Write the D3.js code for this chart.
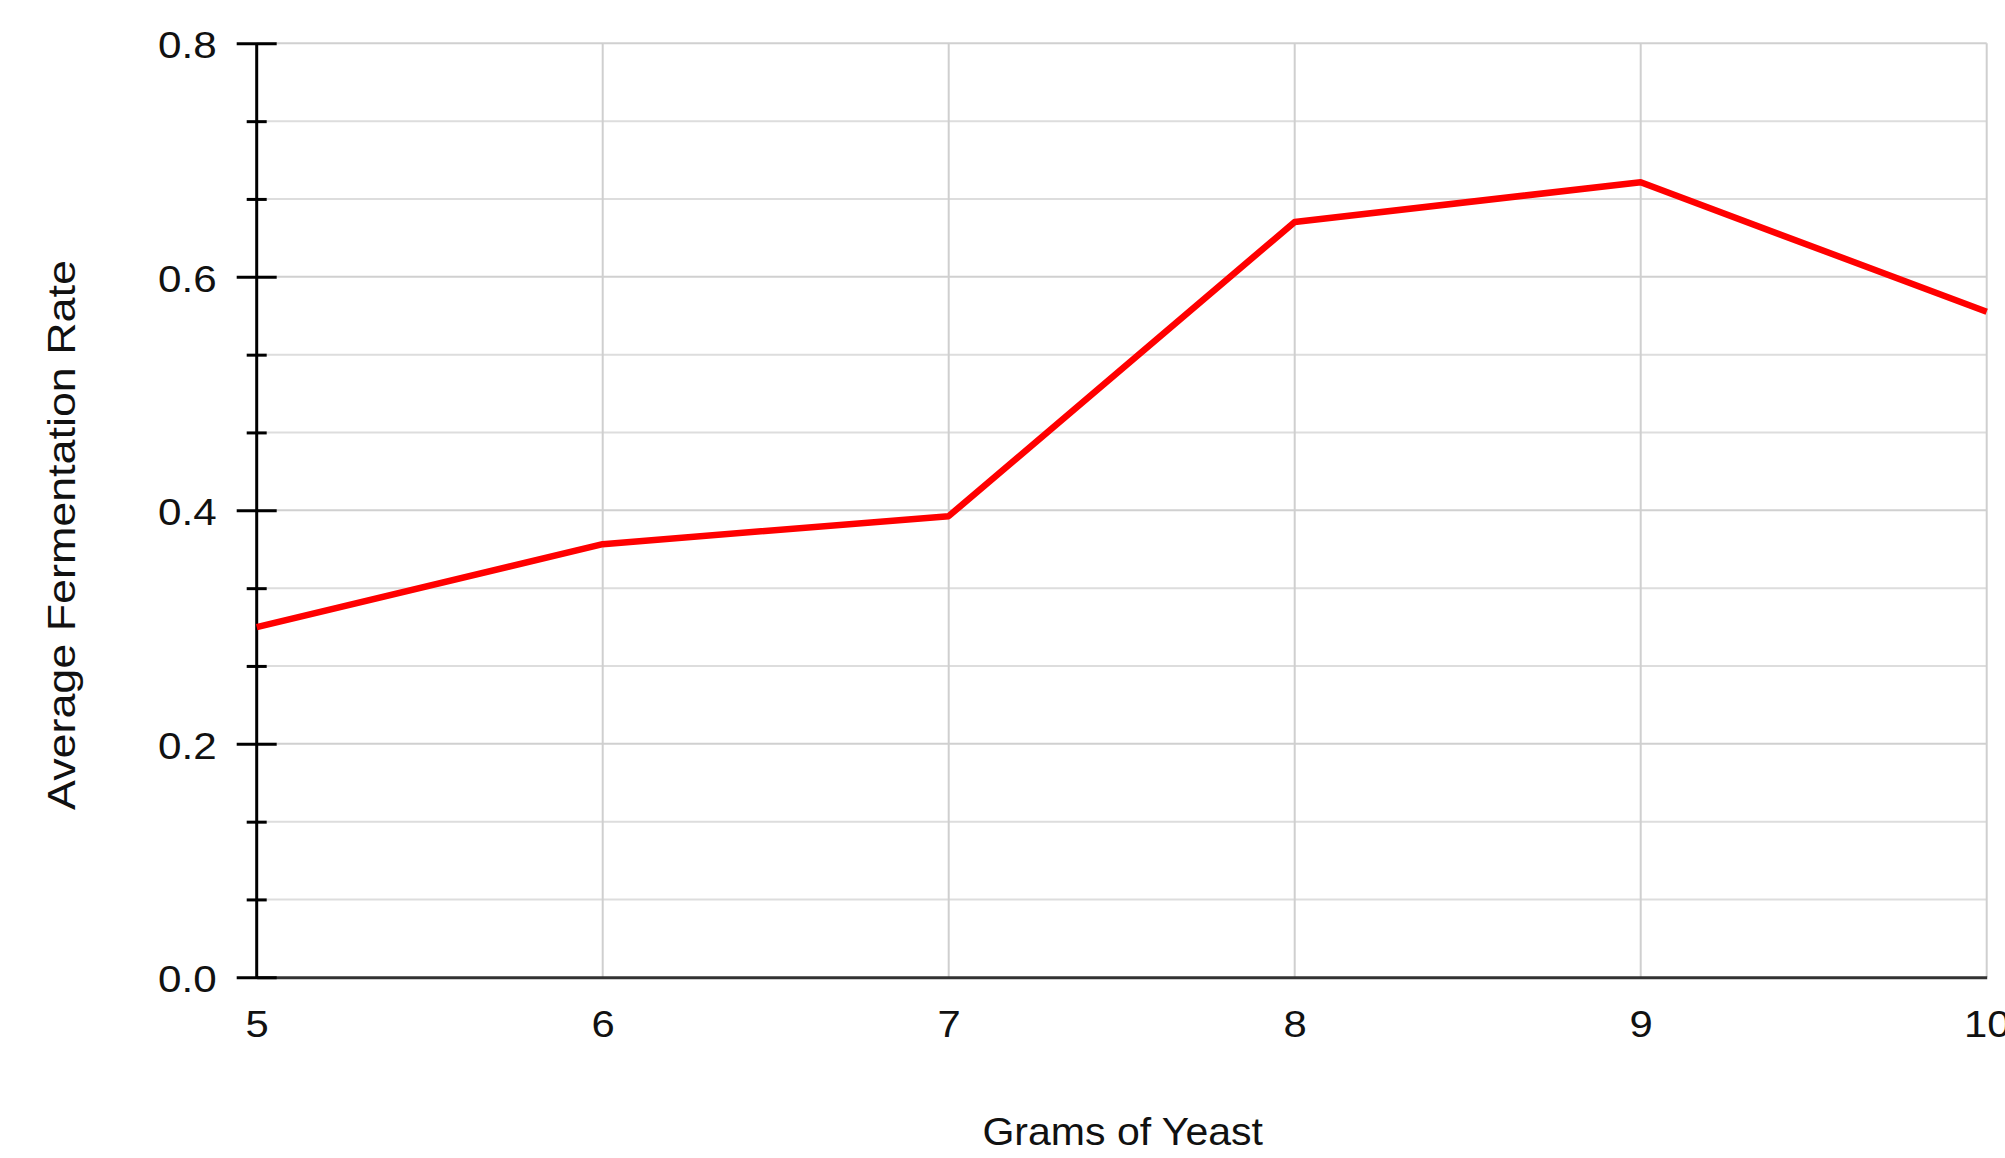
<!DOCTYPE html>
<html>
<head>
<meta charset="utf-8">
<script src="https://cdn.jsdelivr.net/npm/d3@7"></script>
<style>
  html, body { margin: 0; padding: 0; background: #ffffff; }
  svg { display: block; font-family: "Liberation Sans", Arial, sans-serif; }
</style>
</head>
<body>
<svg id="chart" width="2005" height="1158"></svg>
<script>
// ---- data ----
const grams = [5, 6, 7, 8, 9, 10];
const fermentationRate = [0.300, 0.371, 0.395, 0.647, 0.681, 0.570];
const xTicks = [5, 6, 7, 8, 9, 10];
const yMajorTicks = [0.0, 0.2, 0.4, 0.6, 0.8];
const yMinorTicks = [0.0667, 0.1333, 0.2667, 0.3333, 0.4667, 0.5333, 0.6667, 0.7333];
const xTitle = "Grams of Yeast";
const yTitle = "Average Fermentation Rate";

(function () {
// ---- layout ----
const plotLeft = 256.7, plotRight = 1986.7, plotTop = 43.3, plotBottom = 977.3;
const svg = d3.select("#chart");
svg.append("rect").attr("width", 2005).attr("height", 1158).attr("fill", "#fff");

const x = d3.scaleLinear().domain([5, 10]).range([plotLeft, plotRight]);
const y = d3.scaleLinear().domain([0, 0.8]).range([plotBottom, plotTop]);

// gridlines
const grid = svg.append("g");
grid.append("g").selectAll("line").data(yMinorTicks).join("line")
  .attr("x1", plotLeft).attr("x2", plotRight)
  .attr("y1", d => y(d)).attr("y2", d => y(d))
  .attr("stroke", "#dddddd").attr("stroke-width", 2);
grid.append("g").selectAll("line").data(yMajorTicks.filter(d => d > 0)).join("line")
  .attr("x1", plotLeft).attr("x2", plotRight)
  .attr("y1", d => y(d)).attr("y2", d => y(d))
  .attr("stroke", "#d0d0d0").attr("stroke-width", 2);
grid.append("g").selectAll("line").data(xTicks.filter(d => d > 5)).join("line")
  .attr("x1", d => x(d)).attr("x2", d => x(d))
  .attr("y1", plotTop).attr("y2", plotBottom)
  .attr("stroke", "#cfcfcf").attr("stroke-width", 2);

// x axis
const xAxis = svg.append("g")
  .attr("transform", `translate(0,${plotBottom})`)
  .call(d3.axisBottom(x).tickValues(xTicks).tickFormat(d3.format("d")).tickSize(0).tickPadding(0));
xAxis.select(".domain").attr("stroke", "#333333").attr("stroke-width", 3);
xAxis.selectAll(".tick text")
  .attr("y", 0).attr("dy", null)
  .attr("transform", "translate(0,60) scale(1.13,1)")
  .attr("font-size", 37).attr("fill", "#111")
  .attr("font-family", "Liberation Sans, Arial, sans-serif");

// y axis
const yAxis = svg.append("g")
  .attr("transform", `translate(${plotLeft},0)`)
  .call(d3.axisLeft(y).tickValues(yMajorTicks).tickFormat(d3.format(".1f")).tickSize(20).tickPadding(23));
yAxis.select(".domain").attr("stroke", "#000").attr("stroke-width", 3).attr("d", `M0,${plotTop}V${plotBottom}`);
yAxis.selectAll(".tick line").attr("x1", 20).attr("x2", -20).attr("stroke", "#000").attr("stroke-width", 3);
yAxis.selectAll(".tick text")
  .attr("x", 0).attr("dy", "0.36em")
  .attr("transform", "translate(-40,1) scale(1.14,1)")
  .attr("font-size", 37).attr("fill", "#111")
  .attr("font-family", "Liberation Sans, Arial, sans-serif");

const yMinorAxis = svg.append("g")
  .attr("transform", `translate(${plotLeft},0)`)
  .call(d3.axisLeft(y).tickValues(yMinorTicks).tickFormat("").tickSize(10));
yMinorAxis.select(".domain").remove();
yMinorAxis.selectAll(".tick line").attr("x1", 10).attr("x2", -10).attr("stroke", "#000").attr("stroke-width", 3);

// data line
const line = d3.line().x((d, i) => x(grams[i])).y(d => y(d));
svg.append("path")
  .datum(fermentationRate)
  .attr("d", line)
  .attr("fill", "none")
  .attr("stroke", "#ff0000")
  .attr("stroke-width", 6.5)
  .attr("stroke-linejoin", "round");

// titles
svg.append("text")
  .attr("transform", `translate(${(plotLeft + plotRight) / 2 + 1},1145) scale(1.08,1)`)
  .attr("text-anchor", "middle")
  .attr("font-size", 38).attr("fill", "#111")
  .text(xTitle);

svg.append("text")
  .attr("transform", `translate(75,535) rotate(-90) scale(1.18,1)`)
  .attr("text-anchor", "middle")
  .attr("font-size", 38).attr("fill", "#111")
  .text(yTitle);
})();
</script>
</body>
</html>
